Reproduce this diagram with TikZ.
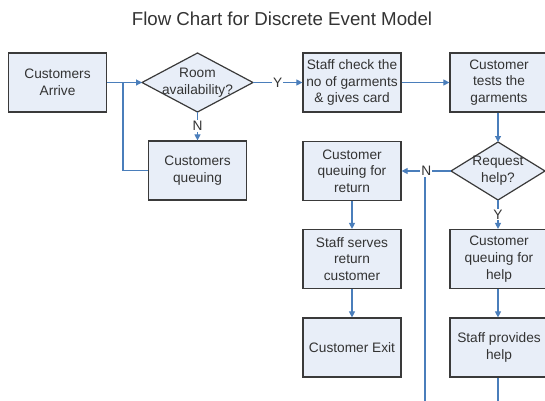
\documentclass[tikz,border=0pt]{standalone}
\usepackage{fontspec}
\setmainfont{Liberation Sans}
\usetikzlibrary{shapes.geometric,arrows.meta}
\definecolor{boxfill}{HTML}{E8EEF8}
\definecolor{boxline}{HTML}{3A3A3A}
\definecolor{conncol}{HTML}{4A7EBB}
\definecolor{txtcol}{HTML}{333333}
\begin{document}
\begin{tikzpicture}[x=1pt,y=-1pt,
  stepbox/.style={draw=boxline,fill=boxfill,line width=1.2pt,minimum width=98pt,minimum height=59pt,inner sep=0pt,align=center,text=txtcol,font=\fontsize{13.7}{16.7}\selectfont},
  decbox/.style={draw=boxline,fill=boxfill,line width=1.2pt,diamond,inner sep=0pt,outer sep=0pt},
  dtext/.style={align=center,text=txtcol,inner sep=0pt,font=\fontsize{13.7}{16.7}\selectfont},
  conn/.style={draw=conncol,line width=1.1pt},
  arr/.style={conn,-{Triangle[length=6pt,width=6pt]}},
  lbl/.style={fill=white,inner sep=1pt,text=txtcol,font=\fontsize{13.7}{16.7}\selectfont}]
\useasboundingbox (0,0) rectangle (545,400);
\clip (0,0) rectangle (545,400);
\fill[white] (0,0) rectangle (545,400);
\node[text=txtcol,font=\fontsize{18.7}{22}\selectfont] (title) at (282,19) {Flow Chart for Discrete Event Model};
% left column
\node[stepbox] (arrive) at (57.5,82.5) {Customers\\Arrive};
\node[decbox,minimum width=111pt,minimum height=59pt] (room) at (197.5,82.5) {};
\node[dtext] (roomt) at (room) {Room\\availability?};
\node[stepbox] (queue) at (197.5,170.5) {Customers\\queuing};
% middle column
\node[stepbox] (staff) at (352,82.5) {Staff check the\\no of garments\\\& gives card};
\node[stepbox] (ret) at (352,171) {Customer\\queuing for\\return};
\node[stepbox] (serve) at (352,259) {Staff serves\\return\\customer};
\node[stepbox] (exit) at (352,347.5) {Customer Exit};
% right column
\node[stepbox] (tests) at (499,82.5) {Customer\\tests the\\garments};
\node[decbox,minimum width=94pt,minimum height=58pt] (req) at (498,171) {};
\node[dtext] (reqt) at (req) {Request\\help?};
\node[stepbox] (helpq) at (499,259) {Customer\\queuing for\\help};
\node[stepbox] (prov) at (499,347.5) {Staff provides\\help};
% coordinates
\coordinate (j) at (123,82.5);
\coordinate (ntop) at (425,171);
\coordinate (nbot) at (425,410);
\coordinate (pbot) at (498,410);
% connectors
\draw[arr] (arrive.east) -- (room.west);
\draw[conn] (queue.west) -| (j);
\draw[arr] (room.south) -- node[lbl] (nlab) {N} (queue.north);
\draw[arr] (room.east) -- node[lbl] (ylab) {Y} (staff.west);
\draw[arr] (staff.east) -- (tests.west);
\draw[arr] (tests.south -| req.north) -- (req.north);
\draw[conn] (ntop) -- (nbot);
\draw[arr] (req.west) -- node[lbl] (nlab2) {N} (ret.east);
\draw[arr] (req.south) -- node[lbl] (ylab2) {Y} (helpq.north -| req.south);
\draw[arr] (ret.south) -- (serve.north);
\draw[arr] (serve.south) -- (exit.north);
\draw[arr] (helpq.south -| req.south) -- (prov.north -| req.south);
\draw[conn] (prov.south -| req.south) -- (pbot);
\end{tikzpicture}
\end{document}
